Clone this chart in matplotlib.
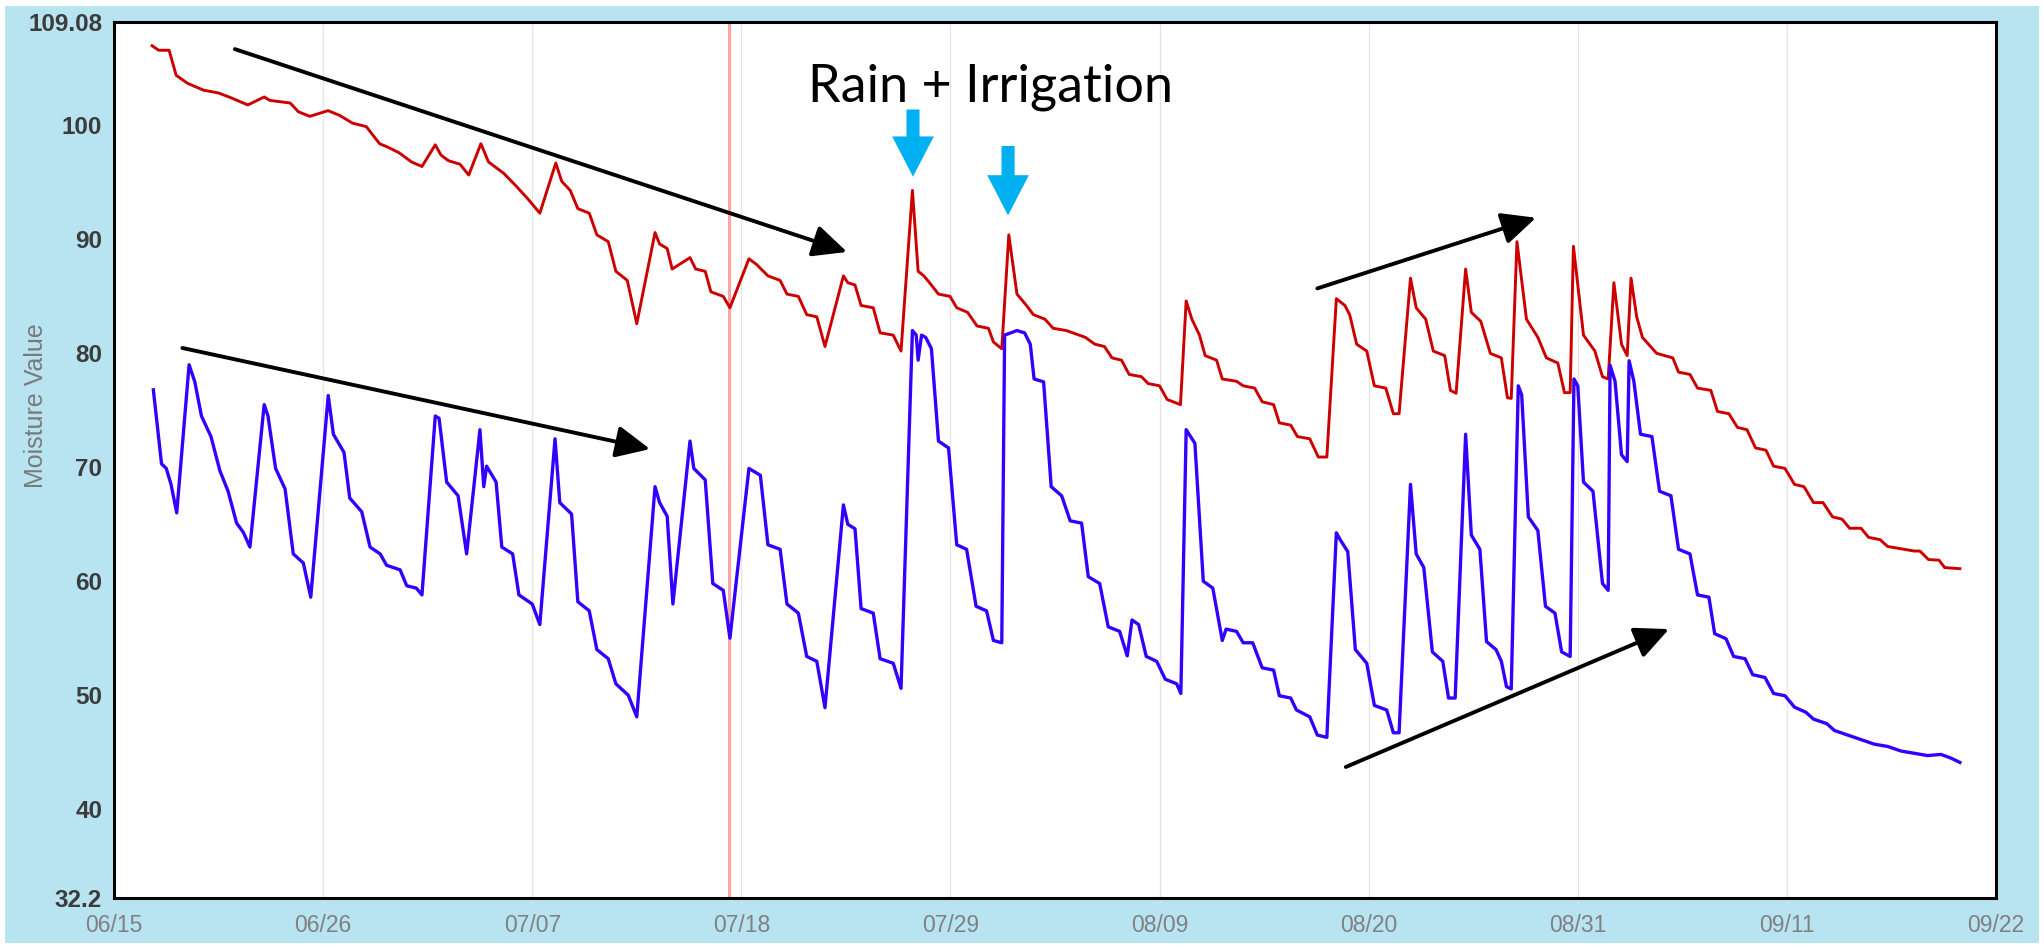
#!/usr/bin/env python3
"""
Soil moisture chart (two sensors) with trend arrows and the rain + irrigation note.
Days are counted from 06/15; the x axis runs 06/15 .. 09/22.
"""
import matplotlib
matplotlib.use("Agg")
import matplotlib.pyplot as plt
from matplotlib.patches import Rectangle, ArrowStyle

# ── Data ──────────────────────────────────────────────────────────────────────

# upper sensor (red)
red_day = [
    2.0, 2.35, 2.9, 3.27, 3.87, 4.7, 5.5, 6.2, 7.04, 7.9, 8.2, 9.27, 9.7, 10.3,
    11.26, 11.85, 12.55, 13.27, 13.97, 14.4, 15.0, 15.65, 16.2, 16.9, 17.2, 17.6,
    18.2, 18.66, 19.3, 19.7, 20.5, 21.2, 21.8, 22.4, 23.24, 23.55, 24.0, 24.4,
    25.0, 25.4, 26.0, 26.4, 27.0, 27.5, 28.46, 28.7, 29.1, 29.36, 30.3, 30.6,
    31.1, 31.4, 32.05, 32.4, 33.4, 33.8, 34.4, 35.04, 35.4, 36.0, 36.44, 36.97,
    37.4, 38.37, 38.6, 38.98, 39.3, 39.94, 40.3, 40.99, 41.4, 42.0, 42.3, 42.6,
    42.9, 43.37, 43.98, 44.33, 44.9, 45.4, 46.0, 46.26, 46.7, 47.07, 47.5, 48.0,
    48.36, 48.97, 49.4, 50.1, 51.1, 51.6, 52.1, 52.5, 53.0, 53.4, 54.05, 54.4,
    55.0, 55.4, 56.1, 56.4, 56.7, 57.1, 57.4, 58.0, 58.3, 59.05, 59.4, 60.0,
    60.4, 61.0, 61.3, 61.9, 62.25, 62.9, 63.35, 63.8, 64.3, 64.75, 65.0, 65.37,
    65.9, 66.3, 66.9, 67.3, 67.6, 68.2, 68.5, 69.0, 69.4, 70.0, 70.3, 70.6,
    71.1, 71.4, 71.9, 72.4, 72.98, 73.3, 73.5, 73.8, 74.3, 74.9, 75.35, 75.95,
    76.3, 76.6, 76.77, 77.3, 77.9, 78.3, 78.6, 78.9, 79.3, 79.6, 79.8, 80.1,
    80.4, 81.15, 82.0, 82.3, 82.9, 83.3, 84.0, 84.35, 84.95, 85.4, 85.9, 86.35,
    86.9, 87.3, 87.9, 88.4, 88.9, 89.4, 89.9, 90.4, 90.9, 91.3, 91.9, 92.3,
    92.9, 93.3, 94.0, 94.7, 95.0, 95.45, 96.0, 96.3, 97.1,
]
red_val = [
    107.0, 106.6, 106.6, 104.4, 103.7, 103.1, 102.85, 102.4, 101.8, 102.5, 102.2,
    101.97, 101.2, 100.8, 101.3, 100.9, 100.2, 99.9, 98.4, 98.1, 97.6, 96.8, 96.4,
    98.3, 97.4, 96.9, 96.6, 95.65, 98.4, 96.8, 95.8, 94.6, 93.5, 92.3, 96.7, 95.1,
    94.3, 92.7, 92.3, 90.4, 89.8, 87.2, 86.4, 82.6, 90.6, 89.6, 89.2, 87.4, 88.4,
    87.4, 87.2, 85.4, 85.0, 84.0, 88.3, 87.8, 86.8, 86.4, 85.2, 85.0, 83.4, 83.2,
    80.6, 86.8, 86.2, 86.0, 84.2, 84.0, 81.8, 81.6, 80.2, 94.3, 87.2, 86.8, 86.2,
    85.2, 85.0, 84.0, 83.6, 82.4, 82.2, 81.0, 80.4, 90.4, 85.2, 84.2, 83.4, 83.0,
    82.2, 82.0, 81.4, 80.8, 80.6, 79.6, 79.4, 78.15, 77.95, 77.35, 77.15, 75.95,
    75.5, 84.6, 83.0, 81.6, 79.8, 79.4, 77.75, 77.55, 77.15, 76.95, 75.75, 75.5,
    73.9, 73.7, 72.7, 72.5, 70.9, 70.9, 84.8, 84.2, 83.4, 80.8, 80.2, 77.15,
    76.95, 74.7, 74.7, 86.6, 84.0, 83.0, 80.2, 79.8, 76.75, 76.5, 87.4, 83.6,
    82.8, 80.0, 79.6, 76.1, 76.05, 89.8, 83.0, 81.4, 79.6, 79.15, 76.55, 76.55,
    89.4, 81.6, 80.2, 77.95, 77.75, 86.2, 80.8, 79.8, 86.6, 83.2, 81.4, 80.0,
    79.6, 78.35, 78.15, 76.95, 76.75, 74.9, 74.7, 73.5, 73.3, 71.7, 71.5, 70.1,
    69.9, 68.5, 68.3, 66.9, 66.9, 65.65, 65.45, 64.65, 64.65, 63.85, 63.65,
    63.05, 62.85, 62.65, 62.65, 61.9, 61.85, 61.2, 61.1,
]

# lower sensor (blue)
blue_day = [
    2.07, 2.5, 2.75, 3.0, 3.3, 3.95, 4.25, 4.6, 5.1, 5.57, 6.0, 6.45, 6.8, 7.15,
    7.9, 8.1, 8.5, 9.0, 9.43, 9.96, 10.35, 11.27, 11.54, 12.1, 12.4, 13.03, 13.47,
    14.0, 14.34, 15.05, 15.4, 15.9, 16.2, 16.9, 17.1, 17.5, 18.1, 18.55, 19.25,
    19.45, 19.6, 20.1, 20.4, 20.97, 21.3, 22.0, 22.4, 23.2, 23.45, 24.07, 24.4,
    25.0, 25.4, 26.0, 26.4, 27.05, 27.5, 28.46, 28.7, 29.1, 29.4, 30.3, 30.5,
    31.1, 31.5, 32.05, 32.4, 33.4, 34.0, 34.4, 35.04, 35.4, 36.0, 36.44, 36.97,
    37.4, 38.37, 38.6, 38.98, 39.3, 39.94, 40.3, 40.99, 41.4, 42.0, 42.2, 42.3,
    42.48, 42.7, 43.0, 43.37, 43.9, 44.33, 44.85, 45.35, 45.9, 46.26, 46.7,
    46.85, 47.5, 47.9, 48.2, 48.4, 48.9, 49.3, 49.85, 50.3, 50.9, 51.25, 51.85,
    52.3, 52.9, 53.3, 53.55, 53.9, 54.3, 54.85, 55.3, 55.9, 56.12, 56.4, 56.86,
    57.3, 57.8, 58.3, 58.5, 59.05, 59.4, 59.9, 60.4, 61.0, 61.3, 61.9, 62.2,
    62.9, 63.3, 63.8, 64.3, 64.5, 64.9, 65.3, 65.9, 66.3, 66.95, 67.3, 67.6,
    68.2, 68.5, 68.9, 69.35, 69.9, 70.2, 70.55, 71.1, 71.4, 71.85, 72.2, 72.7,
    72.98, 73.25, 73.5, 73.87, 74.05, 74.4, 74.9, 75.3, 75.8, 76.15, 76.6, 76.8,
    77.0, 77.3, 77.8, 78.3, 78.6, 78.7, 78.96, 79.3, 79.6, 79.7, 79.95, 80.3,
    80.9, 81.3, 81.9, 82.3, 82.9, 83.3, 83.9, 84.2, 84.8, 85.2, 85.8, 86.2,
    86.85, 87.3, 87.9, 88.4, 89.0, 89.4, 90.1, 90.5, 91.2, 91.9, 92.6, 93.3,
    94.0, 94.7, 95.4, 96.1, 96.6, 97.1,
]
blue_val = [
    76.8, 70.3, 69.9, 68.5, 66.0, 79.0, 77.5, 74.5, 72.7, 69.7, 67.9, 65.1, 64.3,
    63.0, 75.5, 74.5, 69.9, 68.1, 62.4, 61.6, 58.6, 76.3, 72.9, 71.3, 67.3, 66.1,
    63.0, 62.4, 61.4, 61.0, 59.6, 59.4, 58.8, 74.5, 74.3, 68.7, 67.5, 62.4, 73.3,
    68.3, 70.1, 68.7, 63.0, 62.4, 58.8, 58.0, 56.2, 72.5, 66.9, 65.9, 58.2, 57.4,
    54.0, 53.2, 51.0, 50.0, 48.1, 68.3, 66.9, 65.7, 58.0, 72.3, 69.9, 68.9, 59.8,
    59.2, 55.0, 69.9, 69.3, 63.2, 62.8, 58.0, 57.2, 53.4, 52.97, 48.9, 66.7, 65.0,
    64.6, 57.6, 57.2, 53.2, 52.8, 50.6, 82.0, 81.6, 79.4, 81.6, 81.4, 80.4, 72.3,
    71.7, 63.2, 62.8, 57.8, 57.4, 54.8, 54.6, 81.6, 82.0, 81.8, 80.8, 77.75, 77.5,
    68.3, 67.5, 65.3, 65.1, 60.4, 59.8, 56.0, 55.6, 53.45, 56.6, 56.2, 53.4,
    52.97, 51.4, 51.0, 50.15, 73.3, 72.1, 60.0, 59.4, 54.8, 55.8, 55.6, 54.6,
    54.6, 52.4, 52.2, 49.95, 49.75, 48.7, 48.1, 46.5, 46.3, 64.25, 63.65, 62.6,
    54.0, 52.8, 49.1, 48.7, 46.7, 46.7, 68.5, 62.4, 61.2, 53.8, 52.97, 49.75,
    49.75, 72.9, 64.05, 62.8, 54.7, 54.0, 52.97, 50.75, 50.55, 77.15, 76.35,
    65.65, 64.45, 57.8, 57.2, 53.8, 53.4, 77.75, 77.15, 68.7, 67.9, 59.8, 59.2,
    78.95, 77.55, 71.1, 70.5, 79.35, 77.55, 72.9, 72.7, 67.9, 67.5, 62.8, 62.4,
    58.8, 58.6, 55.4, 54.95, 53.4, 53.2, 51.8, 51.55, 50.15, 49.95, 48.95, 48.5,
    47.9, 47.5, 46.9, 46.5, 46.1, 45.7, 45.5, 45.1, 44.9, 44.7, 44.8, 44.5, 44.1,
]

x_tick_days   = [0, 11, 22, 33, 44, 55, 66, 77, 88, 99]
x_tick_labels = ["06/15", "06/26", "07/07", "07/18", "07/29",
                 "08/09", "08/20", "08/31", "09/11", "09/22"]
y_ticks       = [32.2, 40, 50, 60, 70, 80, 90, 100, 109.08]
y_tick_labels = ["32.2", "40", "50", "60", "70", "80", "90", "100", "109.08"]
y_min, y_max  = 32.2, 109.08
marker_day    = 32.35          # pink "today" style marker line

# trend arrows: (start day, start value, tip day, tip value)
trend_arrows = [
    (6.36, 106.7, 38.56, 88.9),
    (3.6, 80.47, 28.2, 71.6),
    (63.3, 85.7, 74.8, 91.9),
    (64.8, 43.7, 81.8, 55.8),
]
# rain / irrigation call-outs: (day, top value, tip value)
rain_arrows = [(42.03, 101.4, 95.5), (47.03, 98.2, 92.1)]
note_text   = "Rain + Irrigation"
note_pos    = (46.13, 102.1)

# ── Style ─────────────────────────────────────────────────────────────────────

W, H, DPI = 2044, 948, 100
BG_BLUE   = "#b8e4f2"
RED       = "#cc0000"
BLUE      = "#3300ff"
CYAN      = "#00b0f0"

plt.rcParams["font.family"] = ["Liberation Sans", "DejaVu Sans"]


def main():
    fig = plt.figure(figsize=(W / DPI, H / DPI), dpi=DPI, facecolor="white")
    # light blue frame, leaving a thin white margin like the screenshot
    fig.patches.append(Rectangle((5 / W, 5 / H), (2039 - 5) / W, (945 - 8) / H,
                                 transform=fig.transFigure, facecolor=BG_BLUE,
                                 edgecolor="none", zorder=-10))

    ax = fig.add_axes([114 / W, 50 / H, 1882 / W, 876 / H])
    ax.set_facecolor("white")
    ax.set_zorder(1)

    # grid + marker
    for d in x_tick_days:
        ax.axvline(d, color="#e4e4e4", lw=0.9, zorder=1)
    ax.axvline(marker_day, color="#ffa3a3", lw=2.2, zorder=1.5)

    ax.plot(red_day, red_val, color=RED, lw=2.1, zorder=3, solid_joinstyle="round")
    ax.plot(blue_day, blue_val, color=BLUE, lw=2.4, zorder=3, solid_joinstyle="round")

    ax.set_xlim(x_tick_days[0], x_tick_days[-1])
    ax.set_ylim(y_min, y_max)

    ax.set_xticks(x_tick_days)
    ax.set_xticklabels(x_tick_labels, fontsize=16.5, color="#808080")
    ax.tick_params(axis="x", length=5, width=0.8, color="#dddddd", pad=6.5)
    ax.set_yticks(y_ticks)
    ax.set_yticklabels(y_tick_labels, fontsize=17.5, fontweight="bold", color="#3c3c3c")
    ax.tick_params(axis="y", length=0, pad=8.5)

    for sp in ax.spines.values():
        sp.set_color("black")
        sp.set_linewidth(2.2)

    fig.text(36 / W, 1 - 406 / H, "Moisture Value", rotation=90, ha="center",
             va="center", fontsize=18, color="#7a7a7a", zorder=2)

    # ── Annotations ──────────────────────────────────────────────────────────
    for x0, y0, x1, y1 in trend_arrows:
        ax.annotate("", xy=(x1, y1), xytext=(x0, y0),
                    arrowprops=dict(arrowstyle="-|>,head_length=1.6,head_width=0.75",
                                    mutation_scale=13, lw=2.8, color="black",
                                    shrinkA=0, shrinkB=0), zorder=5)

    for d, top, tip in rain_arrows:
        ax.annotate("", xy=(d, tip), xytext=(d, top),
                    arrowprops=dict(arrowstyle=ArrowStyle.Simple(head_length=29,
                                                                 head_width=30,
                                                                 tail_width=9.4),
                                    mutation_scale=1, fc=CYAN, ec="none",
                                    shrinkA=0, shrinkB=0), zorder=5)

    ax.text(note_pos[0], note_pos[1], note_text, ha="center", va="baseline",
            fontsize=37.5, color="black", family=["Lato", "DejaVu Sans"], zorder=6)

    fig.savefig("out.png", dpi=DPI, facecolor=fig.get_facecolor())
    plt.close(fig)


if __name__ == "__main__":
    main()
